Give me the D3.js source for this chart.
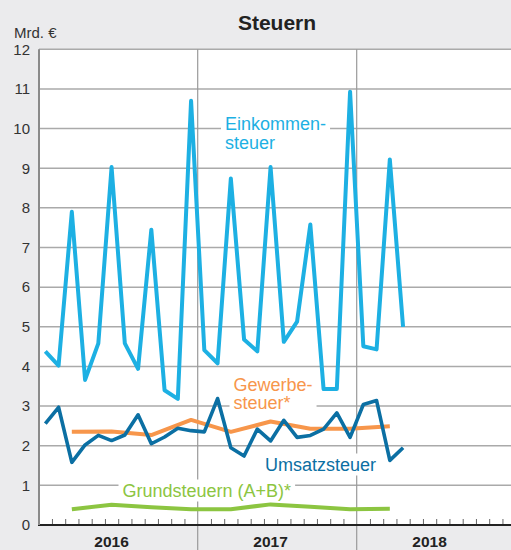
<!DOCTYPE html>
<html>
<head>
<meta charset="utf-8">
<script src="https://cdn.jsdelivr.net/npm/d3@7"></script>
<style>
  html, body { margin: 0; padding: 0; background: #ebebed; }
  svg { display: block; }
  text { font-family: "Liberation Sans", Arial, Helvetica, sans-serif; }
</style>
</head>
<body>
<svg id="chart" width="511" height="550"></svg>
<script>
// Monthly tax revenue, billion euro
const months = [
  "Jan 2016","Feb 2016","Mär 2016","Apr 2016","Mai 2016","Jun 2016",
  "Jul 2016","Aug 2016","Sep 2016","Okt 2016","Nov 2016","Dez 2016",
  "Jan 2017","Feb 2017","Mär 2017","Apr 2017","Mai 2017","Jun 2017",
  "Jul 2017","Aug 2017","Sep 2017","Okt 2017","Nov 2017","Dez 2017",
  "Jan 2018","Feb 2018","Mär 2018","Apr 2018"
];
const einkommensteuer = [4.38, 4.02, 7.90, 3.66, 4.58, 9.03, 4.58, 3.94, 7.45, 3.40, 3.18, 10.70,
                         4.41, 4.08, 8.74, 4.68, 4.38, 9.03, 4.62, 5.13, 7.58, 3.43, 3.43, 10.93,
                         4.51, 4.43, 9.22, 5.00];
const umsatzsteuer = [2.56, 2.97, 1.58, 2.02, 2.26, 2.13, 2.27, 2.78, 2.05, 2.22, 2.44, 2.38,
                      2.35, 3.19, 1.95, 1.74, 2.42, 2.12, 2.64, 2.21, 2.26, 2.42, 2.83, 2.21,
                      3.04, 3.14, 1.63, 1.95];

// Quarterly figures, plotted at the last month of each quarter
const quarters = ["Mär 2016","Jun 2016","Sep 2016","Dez 2016","Mär 2017","Jun 2017","Sep 2017","Dez 2017","Mär 2018"];
const gewerbesteuer = [2.35, 2.36, 2.27, 2.65, 2.35, 2.61, 2.43, 2.43, 2.49];
const grundsteuern  = [0.40, 0.51, 0.45, 0.40, 0.40, 0.52, 0.46, 0.40, 0.41];

const years = ["2016", "2017", "2018"];
const yTicks = [0,1,2,3,4,5,6,7,8,9,10,11,12];

const colors = {
  einkommen: "#1db0e3",
  umsatz: "#0b6fa3",
  gewerbe: "#f7964b",
  grund: "#8cc541"
};

const W = 511, H = 550;
const svg = d3.select("#chart");

const plot = { left: 39, top: 49.3, right: W, bottom: 525 };

// x: months counted from Jan 2016; three years of 12 months
const x = d3.scaleLinear().domain([0, 36]).range([38.7, 515.7]);
const y = d3.scaleLinear().domain([0, 12]).range([plot.bottom, plot.top]);

const monthIndex = m => months.indexOf(m);

// Plot background
svg.append("rect")
  .attr("x", plot.left).attr("y", plot.top)
  .attr("width", plot.right - plot.left).attr("height", plot.bottom - plot.top)
  .attr("fill", "#fff");

// Horizontal gridlines
svg.append("g")
  .selectAll("line")
  .data(yTicks.filter(d => d > 0))
  .join("line")
  .attr("x1", plot.left).attr("x2", plot.right)
  .attr("y1", d => y(d)).attr("y2", d => y(d))
  .attr("stroke", "#aaaaaa").attr("stroke-width", 1.5);

// Year separators, running down through the label strip
svg.append("g")
  .selectAll("line")
  .data([12, 24])
  .join("line")
  .attr("x1", d => x(d)).attr("x2", d => x(d))
  .attr("y1", plot.top).attr("y2", H)
  .attr("stroke", "#9a9a9a").attr("stroke-width", 1.2);

// Month ticks on the bottom axis
const xAxis = d3.axisBottom(x)
  .tickValues(d3.range(1, 36).filter(d => d % 12 !== 0))
  .tickSize(-6)
  .tickFormat("");
const gx = svg.append("g")
  .attr("transform", `translate(0,${plot.bottom})`)
  .call(xAxis);
gx.select(".domain").remove();
gx.selectAll(".tick line").attr("stroke", "#666").attr("stroke-width", 1);

svg.append("line")
  .attr("x1", plot.left - 1).attr("x2", plot.right)
  .attr("y1", plot.bottom).attr("y2", plot.bottom)
  .attr("stroke", "#222").attr("stroke-width", 2);

// Left axis
const yAxis = d3.axisLeft(y).tickValues(yTicks).tickSize(0).tickPadding(9).tickFormat(d3.format("d"));
const gy = svg.append("g")
  .attr("transform", `translate(${plot.left},0)`)
  .call(yAxis);
gy.select(".domain").remove();
gy.selectAll(".tick text")
  .attr("font-size", 15)
  .attr("fill", "#333")
  .attr("font-family", "'Liberation Sans', Arial, sans-serif");

svg.append("line")
  .attr("x1", plot.left).attr("x2", plot.left)
  .attr("y1", plot.top).attr("y2", plot.bottom)
  .attr("stroke", "#8a8a8a").attr("stroke-width", 2);

// Unit and title
svg.append("text")
  .attr("x", 14).attr("y", 38)
  .attr("font-size", 15).attr("fill", "#333")
  .text("Mrd. €");

svg.append("text")
  .attr("x", 277).attr("y", 30)
  .attr("text-anchor", "middle")
  .attr("font-size", 21).attr("font-weight", "bold").attr("fill", "#222")
  .text("Steuern");

// Year labels
svg.append("g")
  .selectAll("text")
  .data(years)
  .join("text")
  .attr("x", (d, i) => x(i * 12 + 5.5))
  .attr("y", 546.5)
  .attr("text-anchor", "middle")
  .attr("font-size", 15.5).attr("font-weight", "bold").attr("fill", "#222")
  .text(d => d);

// Series labels with a white backing that interrupts the gridlines
function seriesLabel(lines, x0, y0, color, lineGap) {
  const g = svg.append("g");
  const bg = g.append("rect").attr("fill", "#fff");
  const t = g.append("text")
    .attr("font-size", 18).attr("fill", color);
  lines.forEach((s, i) => {
    t.append("tspan").attr("x", x0).attr("y", y0 + i * lineGap).text(s);
  });
  const b = t.node().getBBox();
  bg.attr("x", b.x - 4).attr("y", b.y - 1)
    .attr("width", b.width + 8).attr("height", b.height + 2);
}
seriesLabel(["Einkommen-", "steuer"], 225, 130, colors.einkommen, 18.5);
seriesLabel(["Gewerbe-", "steuer*"], 233.5, 390.5, colors.gewerbe, 18.5);
seriesLabel(["Umsatzsteuer"], 265, 470.5, colors.umsatz, 18.5);
seriesLabel(["Grundsteuern (A+B)*"], 122.5, 496.5, colors.grund, 18.5);

// Lines
const line = d3.line()
  .x(d => x(d.m + 0.5))
  .y(d => y(d.v));

function drawSeries(cats, values, color, width) {
  const pts = cats.map((c, i) => ({ m: monthIndex(c), v: values[i] }));
  svg.append("path")
    .datum(pts)
    .attr("d", line)
    .attr("fill", "none")
    .attr("stroke", color)
    .attr("stroke-width", width)
    .attr("stroke-linejoin", "round")
    .attr("stroke-linecap", "butt");
}

drawSeries(quarters, grundsteuern, colors.grund, 4);
drawSeries(quarters, gewerbesteuer, colors.gewerbe, 4);
drawSeries(months, umsatzsteuer, colors.umsatz, 3.6);
drawSeries(months, einkommensteuer, colors.einkommen, 4);
</script>
</body>
</html>
